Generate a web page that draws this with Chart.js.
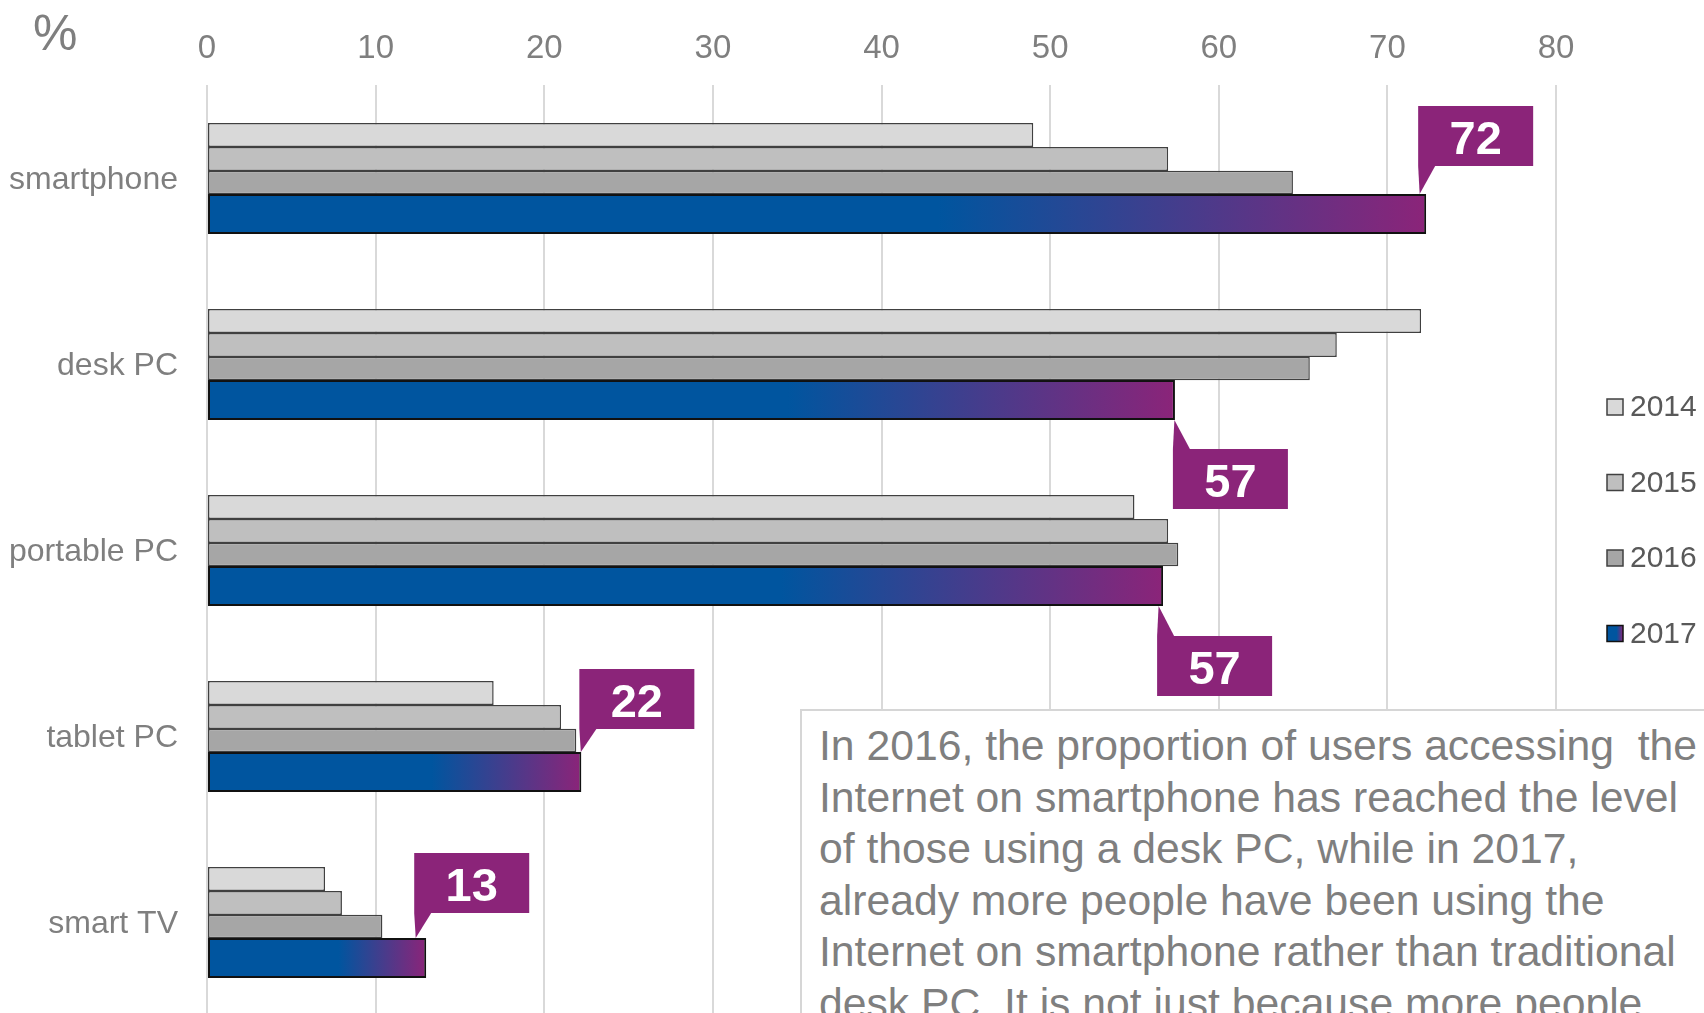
<!DOCTYPE html>
<html>
<head>
<meta charset="utf-8">
<title>Internet access by device</title>
<script src="https://cdn.jsdelivr.net/npm/chart.js@4.4.1/dist/chart.umd.min.js"></script>
<style>
  html, body { margin: 0; padding: 0; overflow: hidden; background: #fff; }
  #wrap { position: relative; width: 1704px; height: 1013px; overflow: hidden; }
  #note {
    position: absolute; left: 800px; top: 709px; width: 1000px; height: 420px;
    box-sizing: border-box; border: 2px solid #D6D6D6; background: #fff;
    padding: 9px 0 0 17px; white-space: pre; color: #7F7F7F;
    font: 42.7px "Liberation Sans", Arial, sans-serif; line-height: 51.5px;
  }
</style>
</head>
<body>
<div id="wrap">
  <canvas id="myChart" width="1704" height="1015"></canvas>
  <div id="note">In 2016, the proportion of users accessing  the
Internet on smartphone has reached the level
of those using a desk PC, while in 2017,
already more people have been using the
Internet on smartphone rather than traditional
desk PC. It is not just because more people</div>
</div>
<script>
const categories = ["smartphone", "desk PC", "portable PC", "tablet PC", "smart TV"];
const years = ["2014", "2015", "2016", "2017"];
const values2014 = [49, 72, 55, 17, 7];
const values2015 = [57, 67, 57, 21, 8];
const values2016 = [64.4, 65.4, 57.6, 21.9, 10.4];
const values2017 = [72.3, 57.4, 56.7, 22.2, 13];
const xTicks = [0, 10, 20, 30, 40, 50, 60, 70, 80];
const calloutSide = ["up", "down", "down", "up", "up"];
// [shift of box left from bar end, gap between bar and box] in px
const calloutNudge = [[-8, 28], [-2, 29], [-6, 30], [-2, 23], [-12, 25]];

const BLUE = "#00559F";
const PURPLE = "#8B2479";
const grayFills = ["#D9D9D9", "#BFBFBF", "#A6A6A6"];
const FONT = "'Liberation Sans', Arial, sans-serif";

// Excel draws three thin bars and one thick bar per group. Chart.js gives every
// grouped bar the same slot, so each dataset gets its own category/bar percentage.
// [offset of bar centre from category centre, thickness] in px, band = 186px
const BAND = 186;
const slots = [[-43, 24], [-19, 24], [4.5, 23.5], [36, 40]];
const barFit = (k) => {
  const [offset, thickness] = slots[k];
  const size = (offset * 4) / (k - 1.5);
  return { categoryPercentage: size / BAND, barPercentage: thickness / (size / 4) };
};

const blueToPurple = (ctx, x0, x1) => {
  const g = ctx.createLinearGradient(x0, 0, x1, 0);
  g.addColorStop(0, BLUE);
  g.addColorStop(0.6, BLUE);
  g.addColorStop(1, PURPLE);
  return g;
};

const fill2017 = (context) => {
  const chart = context.chart;
  if (context.type !== "data" || !chart.chartArea) return BLUE;
  const x = chart.scales.x;
  return blueToPurple(chart.ctx, x.getPixelForValue(0), x.getPixelForValue(context.raw));
};

const grayValues = [values2014, values2015, values2016];
const datasets = grayValues.map((vals, k) => ({
  label: years[k],
  data: vals,
  backgroundColor: grayFills[k],
  borderColor: "#404040",
  borderWidth: 1.5,
  borderSkipped: false,
  ...barFit(k),
}));
datasets.push({
  label: years[3],
  data: values2017,
  backgroundColor: fill2017,
  borderColor: "#111111",
  borderWidth: 2,
  borderSkipped: false,
  ...barFit(3),
});

//value boxes on the 2017 bars
const callouts = {
  id: "callouts",
  afterDatasetsDraw(chart) {
    const { ctx } = chart;
    const meta = chart.getDatasetMeta(3);
    const w = 115, h = 60;
    meta.data.forEach((bar, i) => {
      const [dx, gap] = calloutNudge[i];
      const up = calloutSide[i] === "up";
      const left = bar.x + dx;
      const barEdge = up ? bar.y - bar.height / 2 : bar.y + bar.height / 2;
      const top = up ? barEdge - gap - h : barEdge + gap;
      const base = up ? top + h : top;
      ctx.save();
      ctx.fillStyle = PURPLE;
      ctx.fillRect(left, top, w, h);
      ctx.beginPath();
      ctx.moveTo(left, base);
      ctx.lineTo(left + 17, base);
      ctx.lineTo(left + 1.5, barEdge);
      ctx.closePath();
      ctx.fill();
      ctx.fillStyle = "#ffffff";
      ctx.font = "bold 47px " + FONT;
      ctx.textAlign = "center";
      ctx.textBaseline = "alphabetic";
      ctx.fillText(String(Math.round(values2017[i])), left + w / 2, top + h / 2 + 18);
      ctx.restore();
    });
  },
  afterDraw(chart) {
    const { ctx } = chart;
    ctx.save();
    // unit label
    ctx.fillStyle = "#7F7F7F";
    ctx.font = "50px " + FONT;
    ctx.textBaseline = "alphabetic";
    ctx.fillText("%", 33, 50);
    // legend
    ctx.font = "30px " + FONT;
    ctx.textBaseline = "middle";
    years.forEach((year, i) => {
      const cy = 407 + i * 75.5;
      ctx.fillStyle = i < 3 ? grayFills[i] : blueToPurple(ctx, 1607, 1623);
      ctx.fillRect(1607, cy - 8, 16, 16);
      ctx.strokeStyle = i < 3 ? "#404040" : "#111111";
      ctx.lineWidth = 1.5;
      ctx.strokeRect(1607, cy - 8, 16, 16);
      ctx.fillStyle = "#595959";
      ctx.fillText(year, 1630, cy + 1);
    });
    ctx.restore();
  },
};

Chart.defaults.font.family = FONT;

new Chart(document.getElementById("myChart"), {
  type: "bar",
  data: { labels: categories, datasets: datasets },
  options: {
    indexAxis: "y",
    responsive: false,
    animation: false,
    layout: { padding: { left: 0, top: 0, right: 148, bottom: 0 } },
    plugins: { legend: { display: false }, tooltip: { enabled: false } },
    scales: {
      x: {
        position: "top",
        min: 0,
        max: 80,
        afterBuildTicks: (scale) => {
          scale.ticks = xTicks.map((v) => ({ value: v }));
        },
        afterFit: (scale) => {
          scale.height = 85;
          scale.paddingLeft = 0;
          scale.paddingRight = 0;
        },
        grid: { color: "#D9D9D9", lineWidth: 2, drawTicks: false },
        border: { display: false },
        ticks: { color: "#7F7F7F", font: { size: 33 }, padding: 16 },
      },
      y: {
        afterFit: (scale) => {
          scale.width = 207;
          scale.paddingTop = 0;
          scale.paddingBottom = 0;
        },
        grid: { display: false, drawTicks: false },
        border: { display: false },
        ticks: { color: "#7F7F7F", font: { size: 32 }, padding: 29, labelOffset: 2.5 },
      },
    },
  },
  plugins: [callouts],
});
</script>
</body>
</html>
